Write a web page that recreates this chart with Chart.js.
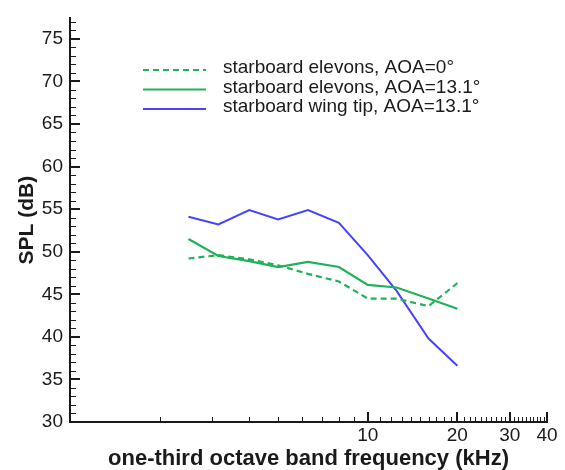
<!DOCTYPE html>
<html>
<head>
<meta charset="utf-8">
<script src="https://cdn.jsdelivr.net/npm/chart.js@4"></script>
<style>
  html, body { margin: 0; padding: 0; background: #fff; }
</style>
</head>
<body>
<canvas id="spl" width="565" height="470"></canvas>
<script>
// one-third octave band centres (kHz)
const freqs = [2.5, 3.15, 4, 5, 6.3, 8, 10, 12.5, 16, 20];

// SPL (dB) per band
const elevonsAoa0 = [49.2, 49.6, 49.1, 48.4, 47.4, 46.5, 44.5, 44.5, 43.6, 46.3];
const elevonsAoa13 = [51.5, 49.5, 48.9, 48.2, 48.8, 48.2, 46.1, 45.8, 44.5, 43.3];
const wingTipAoa13 = [54.1, 53.2, 54.9, 53.8, 54.9, 53.4, 49.6, 45.4, 39.8, 36.6];

const seriesNames = [
  'starboard elevons, AOA=0°',
  'starboard elevons, AOA=13.1°',
  'starboard wing tip, AOA=13.1°'
];

// axis ticks
const xLabelTicks = [10, 20, 30, 40];
const xMinorTicks = [2, 3, 4, 5, 6, 7, 8, 9,
  11, 12, 13, 14, 15, 16, 17, 18, 19,
  21, 22, 23, 24, 25, 26, 27, 28, 29,
  31, 32, 33, 34, 35, 36, 37, 38, 39];
const yLabelTicks = [30, 35, 40, 45, 50, 55, 60, 65, 70, 75];
const yMinorTicks = [31, 32, 33, 34, 36, 37, 38, 39, 41, 42, 43, 44,
  46, 47, 48, 49, 51, 52, 53, 54, 56, 57, 58, 59, 61, 62, 63, 64,
  66, 67, 68, 69, 71, 72, 73, 74, 76, 77];

const GREEN = '#1fb25a';
const BLUE = '#4444ff';
const INK = '#1a1a1a';
const FONT = '"Liberation Sans", Arial, Helvetica, sans-serif';

function toPoints(values) {
  return values.map((v, i) => ({ x: freqs[i], y: v }));
}

// tick marks drawn inward from the axis lines
const inwardTicks = {
  id: 'inwardTicks',
  afterDraw(chart) {
    const { ctx, chartArea: a, scales: { x, y } } = chart;
    ctx.save();
    ctx.strokeStyle = INK;
    const mark = (x1, y1, x2, y2, w) => {
      ctx.lineWidth = w;
      ctx.beginPath();
      ctx.moveTo(x1, y1);
      ctx.lineTo(x2, y2);
      ctx.stroke();
    };
    xMinorTicks.forEach(v => {
      const px = Math.round(x.getPixelForValue(v)) + 0.5;
      mark(px, a.bottom, px, a.bottom - 5, 1);
    });
    xLabelTicks.forEach(v => {
      const px = Math.round(x.getPixelForValue(v));
      mark(px, a.bottom, px, a.bottom - 10, 2);
    });
    yMinorTicks.forEach(v => {
      const py = Math.round(y.getPixelForValue(v)) + 0.5;
      mark(a.left, py, a.left + 6, py, 1);
    });
    yLabelTicks.forEach(v => {
      const py = Math.round(y.getPixelForValue(v));
      mark(a.left, py, a.left + 10, py, 2);
    });
    ctx.restore();
  }
};

// legend sitting inside the plot area
const insideLegend = {
  id: 'insideLegend',
  afterDraw(chart) {
    const ctx = chart.ctx;
    ctx.save();
    ctx.font = '19px ' + FONT;
    ctx.textBaseline = 'middle';
    chart.data.datasets.forEach((ds, i) => {
      const ly = 70 + i * 19.5;
      ctx.strokeStyle = ds.borderColor;
      ctx.lineWidth = ds.borderWidth;
      ctx.setLineDash(ds.borderDash || []);
      ctx.beginPath();
      ctx.moveTo(143, ly);
      ctx.lineTo(206, ly);
      ctx.stroke();
      ctx.setLineDash([]);
      ctx.fillStyle = INK;
      ctx.fillText(ds.label, 223, ly - 2);
    });
    ctx.restore();
  }
};

new Chart(document.getElementById('spl'), {
  type: 'line',
  data: {
    datasets: [
      {
        label: seriesNames[0],
        data: toPoints(elevonsAoa0),
        borderColor: GREEN,
        borderWidth: 2.2,
        borderDash: [6, 4]
      },
      {
        label: seriesNames[1],
        data: toPoints(elevonsAoa13),
        borderColor: GREEN,
        borderWidth: 2.2
      },
      {
        label: seriesNames[2],
        data: toPoints(wingTipAoa13),
        borderColor: BLUE,
        borderWidth: 2
      }
    ]
  },
  options: {
    responsive: false,
    animation: false,
    tension: 0,
    pointRadius: 0,
    layout: { padding: { top: 10, right: 18, left: 0, bottom: 0 } },
    plugins: {
      legend: { display: false },
      tooltip: { enabled: false }
    },
    scales: {
      x: {
        type: 'logarithmic',
        min: 1,
        max: 40,
        afterBuildTicks: s => { s.ticks = xLabelTicks.map(v => ({ value: v })); },
        afterFit: s => { s.height = 48; },
        grid: { display: false, drawTicks: false },
        border: { display: true, color: INK, width: 2 },
        ticks: {
          padding: 2,
          color: INK,
          font: { family: FONT, size: 19 },
          callback: v => String(v),
          maxRotation: 0,
          autoSkip: false
        },
        title: {
          display: true,
          text: 'one-third octave band frequency (kHz)',
          color: INK,
          font: { family: FONT, size: 22, weight: 'bold' },
          padding: { top: 0, bottom: -2 }
        }
      },
      y: {
        min: 30,
        max: 77.4,
        afterBuildTicks: s => { s.ticks = yLabelTicks.map(v => ({ value: v })); },
        afterFit: s => { s.width = 70; },
        grid: { display: false, drawTicks: false },
        border: { display: true, color: INK, width: 2 },
        ticks: {
          padding: 7,
          color: INK,
          font: { family: FONT, size: 19 },
          callback: v => String(v)
        },
        title: {
          display: true,
          text: 'SPL (dB)',
          color: INK,
          font: { family: FONT, size: 21, weight: 'bold' },
          padding: { top: 15, bottom: 0 }
        }
      }
    }
  },
  plugins: [inwardTicks, insideLegend]
});
</script>
</body>
</html>
